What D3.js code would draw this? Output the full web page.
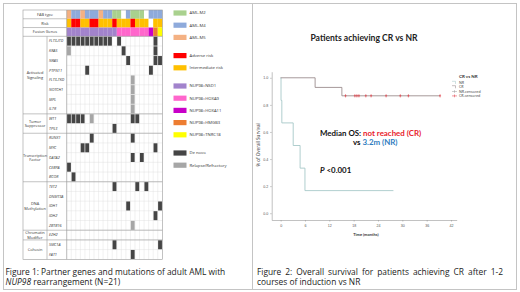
<!DOCTYPE html>
<html>
<head>
<meta charset="utf-8">
<style>
  body { margin:0; background:#fff; }
  svg { display:block; font-family:"Open Sans", sans-serif; }
  .glabel { font-size:3.9px; fill:#333; }
  .gene { font-size:3.8px; font-style:italic; fill:#333; }
  .leg { font-size:4.2px; fill:#333; }
  .km .tick text { font-size:3.6px; fill:#555; }
  .km .tick line, .km .domain { stroke:#999; stroke-width:0.6; }
  .bold { font-family:Lato, sans-serif; font-weight:bold; }
</style>
</head>
<body>
<svg width="520" height="292"></svg>
<script src="https://cdn.jsdelivr.net/npm/d3@7"></script>
<script>
// ---- left panel data ----
var patients = ["P1","P2","P3","P4","P5","P6","P7","P8","P9","P10","P11","P12","P13","P14","P15","P16","P17","P18","P19","P20","P21"];
var headRows = ["FAB type","Risk","Fusion Genes"];
var fabType = ["M5","M4","M4","M5","M4","M4","M4","M5","M4","M4","M2","M2","","M4","M2","M2","M2","","M4","M4","M4"];
var risk = ["Int","Adv","Adv","Int","Int","Adv","Adv","Int","Int","Int","Adv","Int","Int","Int","Adv","Int","Int","Int","","Int","Int"];
var fusion = ["NSD1","NSD1","NSD1","NSD1","NSD1","NSD1","NSD1","NSD1","NSD1","NSD1","NSD1","HOXA9","HOXA9","HOXA9","HOXA9","HOXA9","HOXA9","HOXA9","HOXA11","HMGB3","TNRC18"];
var genes = ["FLT3-ITD","KRAS","NRAS","PTPN11","FLT3-TKD","NOTCH1","MPL","IL7R","WT1","TP53","RUNX1","MYC","GATA2","CEBPA","BCOR","TET2","DNMT3A","IDH1","IDH2","ZBTB16","EZH2","SMC1A","FAT1"];
var groupNames = [["Activated","Signaling"],["Tumor","Suppressor"],["Transcription","Factor"],["DNA","Methylation"],["Chromatin","Modifier"],["Cohesin"]];
var groupFirst = ["FLT3-ITD","WT1","RUNX1","TET2","EZH2","SMC1A"];
var groupLast = ["IL7R","TP53","BCOR","ZBTB16","EZH2","FAT1"];
// [gene, patient column, D = de novo / R = relapse-refractory]
var mutations = [
  ["FLT3-ITD",0,"D"],["FLT3-ITD",1,"D"],["FLT3-ITD",2,"D"],["FLT3-ITD",3,"D"],["FLT3-ITD",4,"D"],
  ["FLT3-ITD",5,"D"],["FLT3-ITD",6,"D"],["FLT3-ITD",7,"D"],["FLT3-ITD",8,"D"],["FLT3-ITD",9,"D"],
  ["FLT3-ITD",11,"D"],["FLT3-ITD",19,"D"],
  ["KRAS",0,"R"],["KRAS",12,"D"],["KRAS",19,"D"],
  ["NRAS",13,"D"],["NRAS",19,"D"],["NRAS",20,"D"],
  ["PTPN11",4,"D"],["PTPN11",18,"D"],
  ["FLT3-TKD",14,"R"],["NOTCH1",14,"R"],["MPL",14,"R"],["IL7R",14,"R"],
  ["WT1",0,"D"],["WT1",1,"D"],["WT1",2,"D"],["WT1",3,"D"],["WT1",5,"R"],["WT1",14,"D"],["WT1",15,"D"],
  ["TP53",10,"D"],
  ["RUNX1",5,"D"],["RUNX1",14,"D"],
  ["MYC",3,"D"],["MYC",4,"D"],["MYC",19,"D"],
  ["GATA2",14,"D"],["GATA2",16,"D"],
  ["CEBPA",0,"D"],["BCOR",1,"D"],
  ["TET2",10,"D"],["TET2",15,"D"],["TET2",17,"D"],
  ["IDH1",13,"D"],["IDH1",20,"D"],
  ["IDH2",19,"D"],["ZBTB16",14,"R"],
  ["SMC1A",10,"D"],["SMC1A",20,"D"],
  ["FAT1",14,"D"]
];
var legendKeys = ["M2","M4","M5","Adv","Int","NSD1","HOXA9","HOXA11","HMGB3","TNRC18","D","R"];
var legendLabels = ["AML-M2","AML-M4","AML-M5","Adverse risk","Intermediate risk","NUP98::NSD1","NUP98::HOXA9","NUP98::HOXA11","NUP98::HMGB3","NUP98::TNRC18","De novo","Relapse/Refractory"];
var legendGroup = [0,0,0,1,1,2,2,2,2,2,3,3];
var legendColors = ["#a9d18e","#8eaadb","#f4b183","#ff0000","#ffc000","#a283cc","#ff66cc","#c800c8","#ed7d31","#ffff00","#454545","#a6a6a6"];

// ---- right panel data ----
var crTime = [0, 8.5, 15.1, 39.3];
var crSurv = [1.0, 0.929, 0.867, 0.867];
var nrTime = [0, 0.1, 0.3, 3.1, 4.8, 6.0, 27.8];
var nrSurv = [1.0, 0.833, 0.667, 0.5, 0.333, 0.167, 0.167];
var crCensorTime = [16, 18.3, 18.8, 19.3, 21, 22.3, 26, 29.5, 31.5, 39.3];
var crCensorSurv = [0.867, 0.867, 0.867, 0.867, 0.867, 0.867, 0.867, 0.867, 0.867, 0.867];
var yTicks = [0, 0.2, 0.4, 0.6, 0.8, 1.0];
var xTicks = [0, 6, 12, 18, 24, 30, 36, 42];

var svg = d3.select("svg");
var color = d3.scaleOrdinal().domain(legendKeys).range(legendColors);

// frames
svg.append("rect").attr("x",3.5).attr("y",3.5).attr("width",513).attr("height",286)
  .attr("fill","none").attr("stroke","#c4c4c4");
svg.append("line").attr("x1",252.5).attr("x2",252.5).attr("y1",3.5).attr("y2",289.5)
  .attr("stroke","#c4c4c4");

// ---------------- left: mutation table ----------------
var x = d3.scaleBand().domain(patients).range([66.7, 162.3]);
var yHead = d3.scaleBand().domain(headRows).range([10, 36.3]);
var yGene = d3.scaleBand().domain(genes).range([36.3, 259.3]);
var bw = x.bandwidth(), bh = yGene.bandwidth();

var tbl = svg.append("g");

// light grid
tbl.selectAll(".vgrid").data(patients).enter().append("line")
  .attr("x1", function(d){ return x(d); }).attr("x2", function(d){ return x(d); })
  .attr("y1", 36.3).attr("y2", 259.3)
  .attr("stroke","#dcdcdc").attr("stroke-width",0.4);
tbl.selectAll(".hgrid").data(genes).enter().append("line")
  .attr("x1", 66.7).attr("x2", 162.3)
  .attr("y1", function(d){ return yGene(d); }).attr("y2", function(d){ return yGene(d); })
  .attr("stroke","#dcdcdc").attr("stroke-width",0.4);

// header rows
var headData = [fabType, risk, fusion];
headRows.forEach(function(row, i) {
  tbl.selectAll(".h" + i).data(headData[i]).enter().append("rect")
    .attr("x", function(d, j){ return x(patients[j]); })
    .attr("y", yHead(row))
    .attr("width", bw + 0.05).attr("height", yHead.bandwidth())
    .attr("fill", function(d){ return d === "" ? "#fff" : color(d); });
  tbl.append("text").attr("class","glabel")
    .attr("x", 45).attr("y", yHead(row) + yHead.bandwidth()/2)
    .attr("dy","0.35em").attr("text-anchor","middle").text(row);
});

// mutation cells
tbl.selectAll(".mut").data(mutations).enter().append("rect")
  .attr("x", function(d){ return x(patients[d[1]]) + 0.35; })
  .attr("y", function(d){ return yGene(d[0]) + 0.35; })
  .attr("width", bw - 0.7).attr("height", bh - 0.7)
  .attr("fill", function(d){ return color(d[2]); });

// gene names
tbl.selectAll(".gene").data(genes).enter().append("text").attr("class","gene")
  .attr("x", 49).attr("y", function(d){ return yGene(d) + bh/2; })
  .attr("dy","0.35em").text(function(d){ return d; });

// group labels and separators
groupNames.forEach(function(lines, i) {
  var y0 = yGene(groupFirst[i]), y1 = yGene(groupLast[i]) + bh;
  var t = tbl.append("text").attr("class","glabel").attr("text-anchor","middle")
    .attr("x", 35).attr("y", (y0 + y1)/2 - (lines.length - 1) * 2.3).attr("dy","0.35em");
  lines.forEach(function(s, k) {
    t.append("tspan").attr("x", 35).attr("dy", k === 0 ? "0.35em" : 4.6).text(s);
  });
  if (i > 0) {
    tbl.append("line").attr("x1", 23).attr("x2", 162.3).attr("y1", y0).attr("y2", y0)
      .attr("stroke","#9a9a9a").attr("stroke-width",0.6);
  }
});
headRows.forEach(function(row, i) {
  if (i > 0) tbl.append("line").attr("x1", 23).attr("x2", 66.7)
    .attr("y1", yHead(row)).attr("y2", yHead(row)).attr("stroke","#9a9a9a").attr("stroke-width",0.6);
});
tbl.append("line").attr("x1", 23).attr("x2", 162.3).attr("y1", 36.3).attr("y2", 36.3)
  .attr("stroke","#9a9a9a").attr("stroke-width",0.6);
tbl.append("line").attr("x1", 47).attr("x2", 47).attr("y1", 36.3).attr("y2", 259.3)
  .attr("stroke","#9a9a9a").attr("stroke-width",0.6);
tbl.append("line").attr("x1", 66.7).attr("x2", 66.7).attr("y1", 10).attr("y2", 259.3)
  .attr("stroke","#9a9a9a").attr("stroke-width",0.6);
tbl.append("rect").attr("x", 23).attr("y", 10).attr("width", 139.3).attr("height", 249.3)
  .attr("fill","none").attr("stroke","#9a9a9a").attr("stroke-width",0.6);

// legend
var leg = svg.append("g").selectAll("g").data(legendKeys).enter().append("g")
  .attr("transform", function(d, i){ return "translate(173.5," + (13 + 12.2*i + 6*legendGroup[i]) + ")"; });
leg.append("rect").attr("x",0).attr("y",-2.6).attr("width",13).attr("height",5.2)
  .attr("fill", function(d){ return color(d); });
leg.append("text").attr("class","leg").attr("x",16).attr("dy","0.35em")
  .text(function(d, i){ return legendLabels[i]; });

// caption 1
var capSize = "8.4px";
svg.append("text").attr("x",5.5).attr("y",275).style("font-size",capSize).attr("fill","#222")
  .text("Figure 1: Partner genes and mutations of adult AML with");
var cap1b = svg.append("text").attr("x",5.5).attr("y",285).style("font-size",capSize).attr("fill","#222");
cap1b.append("tspan").style("font-style","italic").text("NUP98");
cap1b.append("tspan").text(" rearrangement (N=21)");

// ---------------- right: Kaplan-Meier ----------------
var xT = d3.scaleLinear().domain([-2.2, 43.4]).range([271.7, 456.7]);
var yS = d3.scaleLinear().domain([-0.05, 1.045]).range([220, 71.7]);
var km = svg.append("g").attr("class","km");

km.append("g").attr("transform","translate(271.7,0)")
  .call(d3.axisLeft(yS).tickValues(yTicks).tickFormat(d3.format(".1f")).tickSize(1.5).tickSizeOuter(0).tickPadding(2));
km.append("g").attr("transform","translate(0,220)")
  .call(d3.axisBottom(xT).tickValues(xTicks).tickSize(1.5).tickSizeOuter(0).tickPadding(2.5));

var step = d3.line().curve(d3.curveStepAfter)
  .x(function(d){ return xT(d[0]); }).y(function(d){ return yS(d[1]); });
km.append("path").attr("d", step(d3.zip(nrTime, nrSurv)))
  .attr("fill","none").attr("stroke","#9cc2c2").attr("stroke-width",0.8);
km.append("path").attr("d", step(d3.zip(crTime, crSurv)))
  .attr("fill","none").attr("stroke","#8f7f80").attr("stroke-width",0.8);
km.selectAll(".cens").data(d3.zip(crCensorTime, crCensorSurv)).enter().append("line")
  .attr("x1", function(d){ return xT(d[0]); }).attr("x2", function(d){ return xT(d[0]); })
  .attr("y1", function(d){ return yS(d[1]) - 1.6; }).attr("y2", function(d){ return yS(d[1]) + 1.6; })
  .attr("stroke","#e0323c").attr("stroke-width",0.6);
km.selectAll(".cens2").data(d3.zip(crCensorTime, crCensorSurv)).enter().append("line")
  .attr("x1", function(d){ return xT(d[0]) - 1; }).attr("x2", function(d){ return xT(d[0]) + 1; })
  .attr("y1", function(d){ return yS(d[1]); }).attr("y2", function(d){ return yS(d[1]); })
  .attr("stroke","#e0323c").attr("stroke-width",0.6);

// titles
svg.append("text").attr("class","bold").attr("x",364).attr("y",41).attr("text-anchor","middle")
  .style("font-size","8.6px").attr("fill","#222").text("Patients achieving CR vs NR");
svg.append("text").attr("class","bold").attr("x", xT(21)).attr("y",236).attr("text-anchor","middle")
  .style("font-size","4px").attr("fill","#333").text("Time (months)");
svg.append("text").attr("transform","translate(259.5,145) rotate(-90)").attr("text-anchor","middle")
  .style("font-size","4.6px").attr("fill","#333").text("% of Overall Survival");

// KM legend
svg.append("text").attr("class","bold").attr("x",459).attr("y",77.5)
  .style("font-size","4.5px").attr("fill","#333").text("CR vs NR");
var kmLegLabels = ["NR","CR","NR-censored","CR-censored"];
var kmLegColors = ["#9cc2c2","#8f7f80","#9a9a9a","#e0323c"];
var kl = svg.append("g").selectAll("g").data(kmLegLabels).enter().append("g")
  .attr("transform", function(d, i){ return "translate(452," + (82.7 + 4.4*i) + ")"; });
kl.filter(function(d, i){ return i < 2; }).append("path")
  .attr("d","M0,-1.4 h3.5 v2.6").attr("fill","none")
  .attr("stroke", function(d, i){ return kmLegColors[i]; }).attr("stroke-width",0.5);
kl.filter(function(d, i){ return i >= 2; }).append("path")
  .attr("d","M0,0 h5 M2.5,-1.4 v2.8").attr("fill","none")
  .attr("stroke", function(d, i){ return kmLegColors[i + 2]; }).attr("stroke-width",0.5);
kl.append("text").attr("x",7).attr("dy","0.35em").style("font-size","3.6px").attr("fill","#333")
  .text(function(d){ return d; });

// annotations
var a1 = svg.append("text").attr("class","bold").attr("x",320).attr("y",135.5).style("font-size","7.9px");
a1.append("tspan").attr("fill","#111").text("Median OS: ");
a1.append("tspan").attr("fill","#e8202a").text("not reached (CR)");
var a2 = svg.append("text").attr("class","bold").attr("x",353).attr("y",145).style("font-size","7.9px");
a2.append("tspan").attr("fill","#111").text("vs ");
a2.append("tspan").attr("fill","#2e7cc0").text("3.2m (NR)");
var a3 = svg.append("text").attr("class","bold").attr("x",320).attr("y",173).style("font-size","7.9px").attr("fill","#111");
a3.append("tspan").style("font-style","italic").text("P");
a3.append("tspan").text(" <0.001");

// caption 2, justified first line
var cap2Words = "Figure 2: Overall survival for patients achieving CR after 1-2".split(" ");
var c2 = svg.append("g");
var wt = c2.selectAll("text").data(cap2Words).enter().append("text")
  .attr("y",275).style("font-size",capSize).attr("fill","#222").text(function(d){ return d; });
var widths = [];
wt.each(function(){ widths.push(this.getComputedTextLength()); });
var gap = (503 - 257 - d3.sum(widths)) / (cap2Words.length - 1), cx = 257;
wt.attr("x", function(d, i){ var v = cx; cx += widths[i] + gap; return v; });
svg.append("text").attr("x",257).attr("y",285).style("font-size",capSize).attr("fill","#222")
  .text("courses of induction vs NR");
</script>
</body>
</html>
